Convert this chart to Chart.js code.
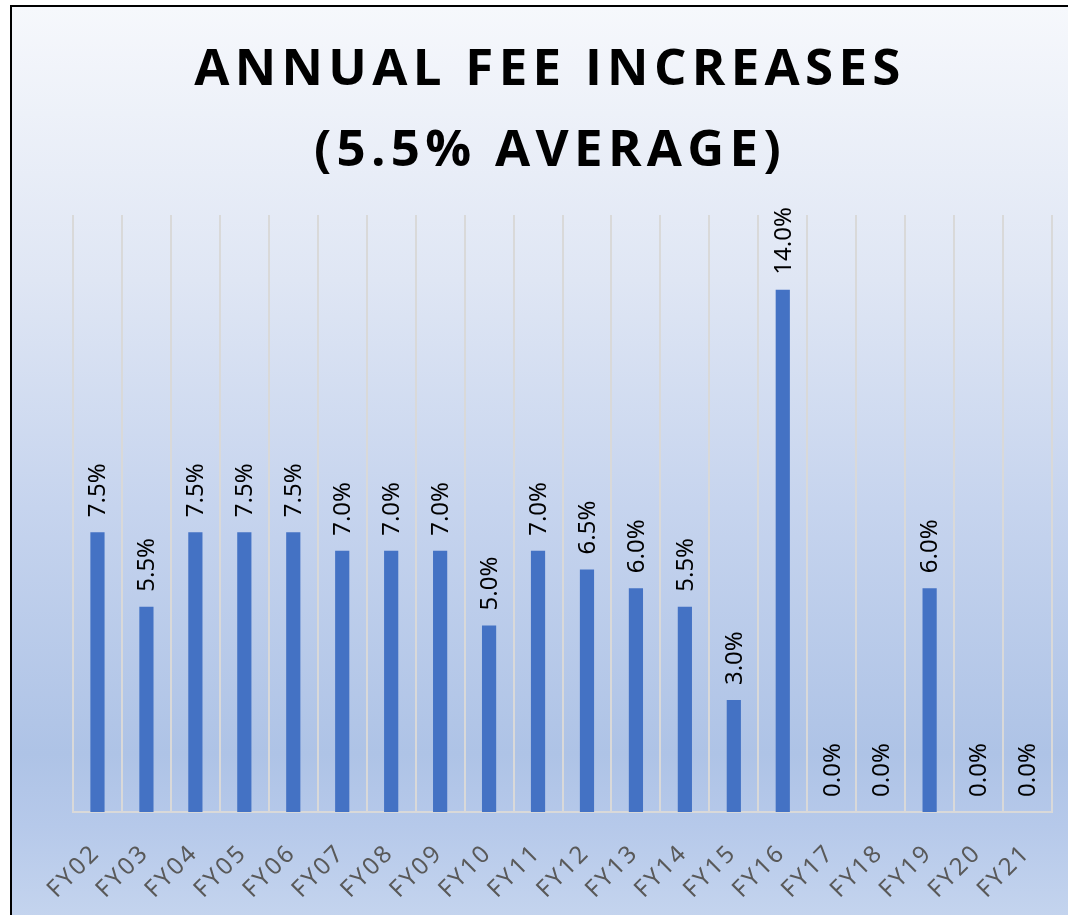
<!DOCTYPE html>
<html>
<head>
<meta charset="utf-8">
<script src="https://cdn.jsdelivr.net/npm/chart.js@4"></script>
<style>
  html, body { margin: 0; padding: 0; background: #fff; overflow: hidden; width: 1068px; height: 915px; }
  #frame {
    position: absolute; left: 10px; top: 5px; width: 1200px; height: 950px;
    border-top: 2px solid #000; border-left: 2px solid #000;
    background: linear-gradient(to bottom, #f6f8fc 0%, #dfe6f4 30%, #c6d4ee 55%, #aec3e6 82%, #b6c9ea 90%, #c4d4ee 100%);
    background-size: 100% 910px; background-repeat: no-repeat;
  }
  #wrap { position: absolute; left: 0; top: 0; width: 1056px; height: 908px; }
  #title {
    position: absolute; left: 0; top: 18px; width: 1080px; text-align: center;
    font-family: "Open Sans", sans-serif; font-weight: bold; font-size: 51px;
    line-height: 81px; letter-spacing: 5.3px; color: #000;
  }
  #title div { position: relative; left: -2px; }
</style>
</head>
<body>
<div id="frame">
  <div id="wrap"><canvas id="chart"></canvas></div>
  <div id="title"></div>
</div>
<script>
// 차트 데이터
const titleLines = ['ANNUAL FEE INCREASES', '(5.5% AVERAGE)'];
const years = ['FY02', 'FY03', 'FY04', 'FY05', 'FY06', 'FY07', 'FY08', 'FY09', 'FY10', 'FY11',
               'FY12', 'FY13', 'FY14', 'FY15', 'FY16', 'FY17', 'FY18', 'FY19', 'FY20', 'FY21'];
const increases = [7.5, 5.5, 7.5, 7.5, 7.5, 7.0, 7.0, 7.0, 5.0, 7.0,
                   6.5, 6.0, 5.5, 3.0, 14.0, 0.0, 0.0, 6.0, 0.0, 0.0];

// 제목
document.getElementById('title').innerHTML = titleLines.map(t => '<div>' + t + '</div>').join('');

// 막대 위 세로 라벨 + 45도 기울인 연도 라벨 (자간 때문에 직접 그림)
const customLabels = {
    id: 'customLabels',
    afterDatasetsDraw(chart) {
        const ctx = chart.ctx;
        const meta = chart.getDatasetMeta(0);
        const xScale = chart.scales.x;
        ctx.save();
        ctx.font = '24px "Noto Sans"';
        ctx.fillStyle = '#000';
        ctx.textAlign = 'left';
        ctx.textBaseline = 'middle';
        meta.data.forEach((bar, i) => {
            ctx.save();
            ctx.translate(bar.x + 1, bar.y - 15);
            ctx.rotate(-Math.PI / 2);
            ctx.fillText(increases[i].toFixed(1) + '%', 0, 0);
            ctx.restore();
        });

        ctx.fillStyle = '#595959';
        ctx.textAlign = 'right';
        ctx.letterSpacing = '2.5px';
        years.forEach((y, i) => {
            ctx.save();
            ctx.translate(xScale.getPixelForTick(i) - 1, chart.chartArea.bottom + 37);
            ctx.rotate(-Math.PI / 4);
            ctx.fillText(y, 0, 0);
            ctx.restore();
        });
        ctx.restore();
    }
};

const chart = new Chart(document.getElementById('chart'), {
    type: 'bar',
    data: {
        labels: years,
        datasets: [{
            data: increases,
            backgroundColor: '#4472c4',
            barPercentage: 0.29,
            categoryPercentage: 1
        }]
    },
    options: {
        responsive: true,
        maintainAspectRatio: false,
        animation: false,
        layout: { padding: { left: 61, right: 16, top: 208, bottom: 103 } },
        plugins: {
            legend: { display: false },
            tooltip: { enabled: false },
            title: { display: false }
        },
        scales: {
            x: {
                grid: { display: true, offset: true, color: '#d9d9d9', lineWidth: 2, drawTicks: false },
                border: { display: true, color: '#d9d9d9', width: 2 },
                ticks: { display: false }
            },
            y: {
                display: false,
                min: 0, max: 16
            }
        }
    },
    plugins: [customLabels]
});
</script>
</body>
</html>
